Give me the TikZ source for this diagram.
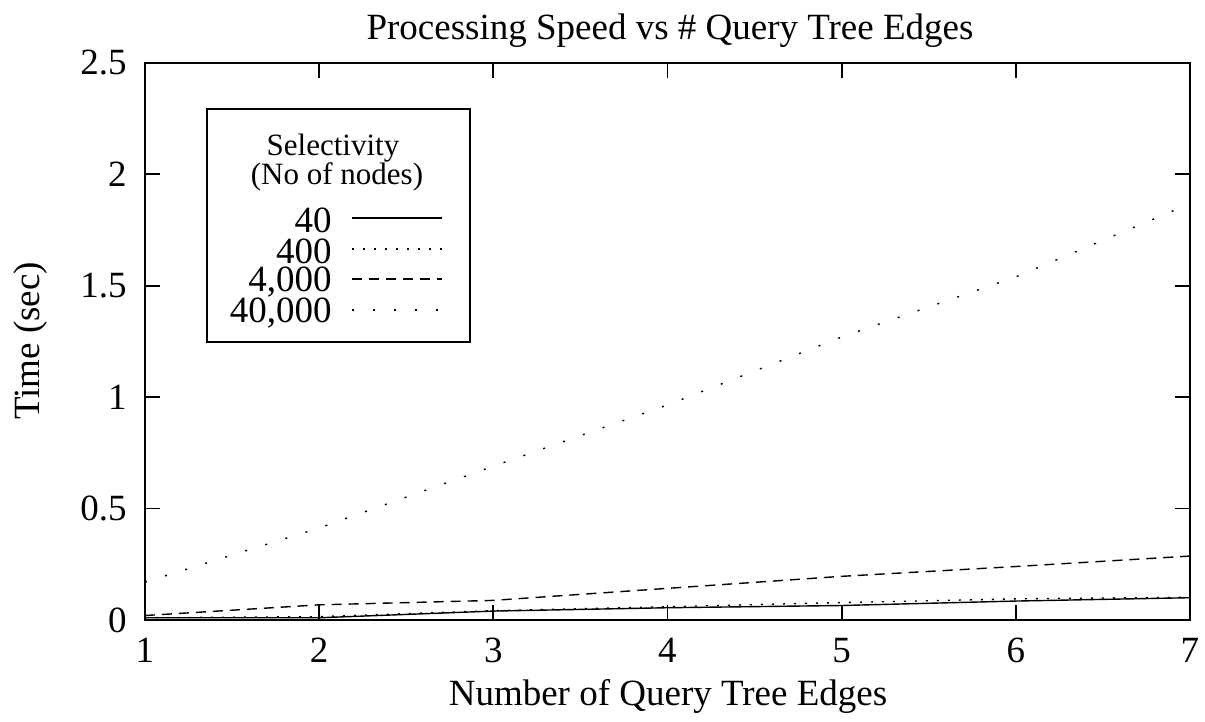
\documentclass[tikz,border=0pt]{standalone}
\usepackage{fontspec}
\setmainfont{Liberation Serif}
\usetikzlibrary{positioning}

\tikzset{
  txt/.style={font=\fontsize{18.5}{22}\selectfont, inner sep=0pt},
  smalltxt/.style={font=\fontsize{15.5}{18}\selectfont, inner sep=0pt},
  frame/.style={line width=0.9pt},
  curve/.style={line width=0.7pt},
  finedots/.style={curve, dash pattern=on 1pt off 4.5pt},
  shortdash/.style={curve, dash pattern=on 5pt off 3.5pt},
  sparsedots/.style={curve, dash pattern=on 1pt off 9.5pt},
}

\begin{document}
\begin{tikzpicture}[x=0.5pt,y=0.5pt]
\useasboundingbox (0,0) rectangle (1205,722);
% axes box
\draw[frame] (145,102) rectangle (1190,659);
\node[txt] (title) at (670,691) {Processing Speed vs \# Query Tree Edges};
\node[txt] (xlab) at (668,26) {Number of Query Tree Edges};
\node[txt, rotate=90] (ylab) at (31,381) {Time (sec)};

% data coordinates: x = number of edges, y = seconds
\begin{scope}[shift={(-29.17,102)}, x=87.08pt, y=111.4pt]
\foreach \n in {1,...,7} {
  \draw[frame] (\n,0) -- ++(0,7.5pt);
  \draw[frame] (\n,2.5) -- ++(0,-7.5pt);
  \node[txt, anchor=north, yshift=-9pt] (xt\n) at (\n,0) {\n};
}
\foreach \v [count=\i] in {0,0.5,1,1.5,2,2.5} {
  \draw[frame] (1,\v) -- ++(7.5pt,0);
  \draw[frame] (7,\v) -- ++(-7.5pt,0);
  \node[txt, anchor=east, xshift=-9pt] (yt\i) at (1,\v) {\v};
}
\draw[curve] plot coordinates {(1,0.01) (2,0.01) (3,0.04) (4,0.055) (5,0.065) (6,0.085) (7,0.1)};
\draw[finedots] plot coordinates {(1,0.01) (2,0.015) (3,0.042) (4,0.06) (5,0.078) (6,0.095) (7,0.102)};
\draw[shortdash] plot coordinates {(1,0.02) (2,0.068) (3,0.088) (4,0.142) (5,0.196) (6,0.24) (7,0.287)};
\draw[sparsedots] plot coordinates {(1,0.17) (2,0.413) (3,0.69) (4,0.965) (5,1.27) (6,1.54) (7,1.868)};
\end{scope}

% legend
\draw[frame] (207,380) rectangle (470,613);
\node[smalltxt] (hd1) at (333,574) {Selectivity};
\node[smalltxt] (hd2) at (337,545) {(No of nodes)};
\node[txt, anchor=east] (k1) at (332,502) {40};
\node[txt, anchor=east] (k2) at (332,471) {400};
\node[txt, anchor=east] (k3) at (332,440) {4,000};
\node[txt, anchor=east] (k4) at (332,409) {40,000};
\draw[curve] ([xshift=10pt]k1.east |- 0,504) -- ++(45pt,0);
\draw[finedots] ([xshift=10pt]k2.east |- 0,473) -- ++(45pt,0);
\draw[shortdash] ([xshift=10pt]k3.east |- 0,443) -- ++(45pt,0);
\draw[sparsedots] ([xshift=10pt]k4.east |- 0,412) -- ++(45pt,0);
\end{tikzpicture}
\end{document}
